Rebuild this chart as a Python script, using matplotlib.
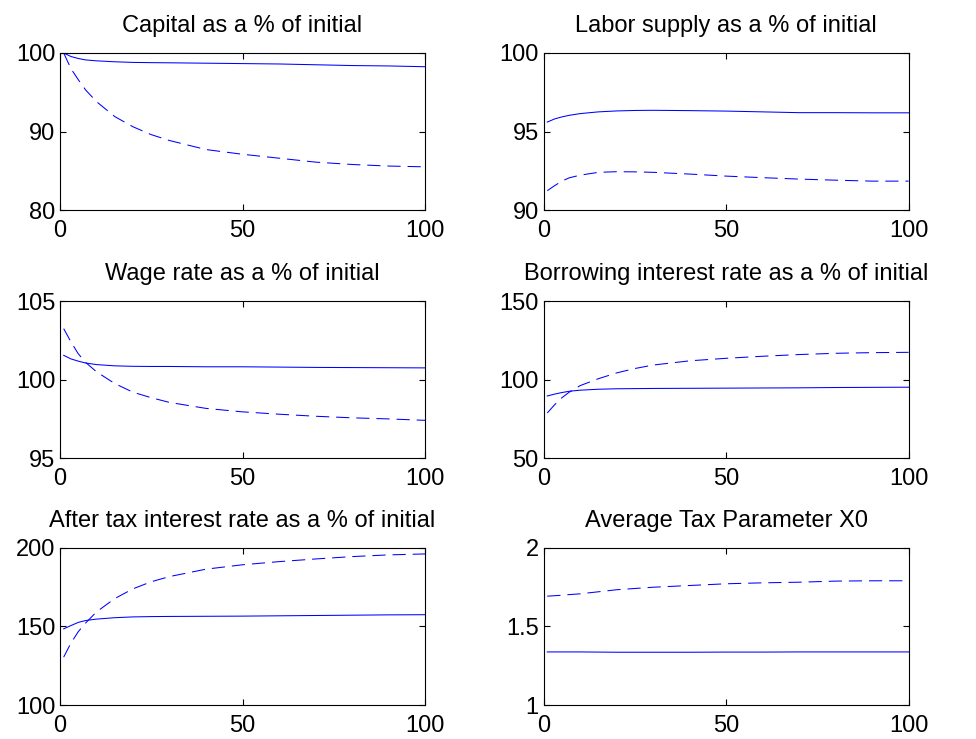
import matplotlib
matplotlib.use("Agg")
import matplotlib.pyplot as plt

plt.rcParams['font.family'] = ['Liberation Sans', 'DejaVu Sans']
plt.rcParams['lines.scale_dashes'] = False

# periods sampled along the transition path
periods = [1, 3, 5, 7, 10, 15, 20, 25, 30, 40, 50, 60, 70, 80, 90, 100]

titles = [
    "Capital as a % of initial",
    "Labor supply as a % of initial",
    "Wage rate as a % of initial",
    "Borrowing interest rate as a % of initial",
    "After tax interest rate as a % of initial",
    "Average Tax Parameter X0",
]

capital_solid = [100.0, 99.55, 99.3, 99.12, 99.0, 98.88, 98.8, 98.77, 98.75, 98.7, 98.65, 98.6, 98.5, 98.4, 98.35, 98.25]
capital_dashed = [100.0, 98.0, 96.6, 95.3, 93.8, 91.9, 90.6, 89.6, 88.85, 87.7, 87.1, 86.6, 86.1, 85.8, 85.6, 85.5]

labor_solid = [95.6, 95.8, 95.93, 96.03, 96.14, 96.25, 96.31, 96.34, 96.35, 96.33, 96.3, 96.25, 96.2, 96.2, 96.19, 96.19]
labor_dashed = [91.23, 91.55, 91.84, 92.05, 92.22, 92.4, 92.44, 92.43, 92.4, 92.29, 92.16, 92.06, 91.97, 91.9, 91.84, 91.84]

wage_solid = [101.55, 101.32, 101.18, 101.06, 100.96, 100.88, 100.85, 100.84, 100.84, 100.82, 100.82, 100.8, 100.78, 100.77, 100.76, 100.75]
wage_dashed = [103.25, 102.4, 101.65, 101.1, 100.5, 99.75, 99.2, 98.85, 98.55, 98.17, 97.95, 97.8, 97.67, 97.57, 97.5, 97.41]

borrow_solid = [89.6, 90.8, 91.8, 92.6, 93.3, 93.9, 94.2, 94.3, 94.4, 94.5, 94.6, 94.7, 94.8, 95.0, 95.1, 95.2]
borrow_dashed = [78.8, 84.0, 88.5, 92.0, 96.2, 100.6, 104.3, 107.1, 109.3, 112.0, 113.6, 114.9, 116.0, 116.8, 117.2, 117.4]

aftertax_solid = [148.5, 150.6, 152.6, 153.8, 154.7, 155.6, 156.1, 156.3, 156.4, 156.5, 156.6, 156.8, 157.0, 157.2, 157.4, 157.5]
aftertax_dashed = [130.5, 139.5, 146.7, 152.2, 159.3, 167.8, 174.0, 178.5, 181.8, 186.5, 189.3, 191.3, 193.0, 194.5, 195.6, 196.2]

tax_solid = [1.338, 1.338, 1.338, 1.338, 1.338, 1.337, 1.336, 1.336, 1.336, 1.336, 1.337, 1.337, 1.338, 1.338, 1.338, 1.338]
tax_dashed = [1.693, 1.696, 1.699, 1.703, 1.708, 1.721, 1.734, 1.742, 1.75, 1.761, 1.772, 1.778, 1.782, 1.789, 1.791, 1.791]

series = [
    (capital_solid, capital_dashed),
    (labor_solid, labor_dashed),
    (wage_solid, wage_dashed),
    (borrow_solid, borrow_dashed),
    (aftertax_solid, aftertax_dashed),
    (tax_solid, tax_dashed),
]

ylims = [(80, 100), (90, 100), (95, 105), (50, 150), (100, 200), (1, 2)]
yticks = [[80, 90, 100], [90, 95, 100], [95, 100, 105], [50, 100, 150], [100, 150, 200], [1, 1.5, 2]]
yticklabels = [None, None, None, None, None, ["1", "1.5", "2"]]

fig = plt.figure(figsize=(9.76, 7.39), dpi=100)

lefts = [0.0615, 0.557]
bottoms = [0.7158, 0.380, 0.046]
w, h = 0.374, 0.2125

for i in range(6):
    row, col = divmod(i, 2)
    ax = fig.add_axes([lefts[col], bottoms[row], w, h])
    solid, dashed = series[i]
    ax.plot(periods, solid, color='#0000ff', linewidth=0.75)
    ax.plot(periods, dashed, color='#0000ff', linewidth=0.75, linestyle='--', dashes=(9.5, 5))
    ax.set_xlim(0, 100)
    ax.set_ylim(*ylims[i])
    ax.set_xticks([0, 50, 100])
    ax.set_yticks(yticks[i])
    if yticklabels[i]:
        ax.set_yticklabels(yticklabels[i])
    ax.tick_params(direction='in', top=True, right=True, labelsize=17, length=4, width=0.8)
    ax.tick_params(axis='x', pad=7)
    ax.tick_params(axis='y', pad=3.5)
    for sp in ax.spines.values():
        sp.set_linewidth(0.8)
    ax.set_title(titles[i], fontsize=17, pad=15)

plt.savefig("out.png", dpi=100)
plt.close()
